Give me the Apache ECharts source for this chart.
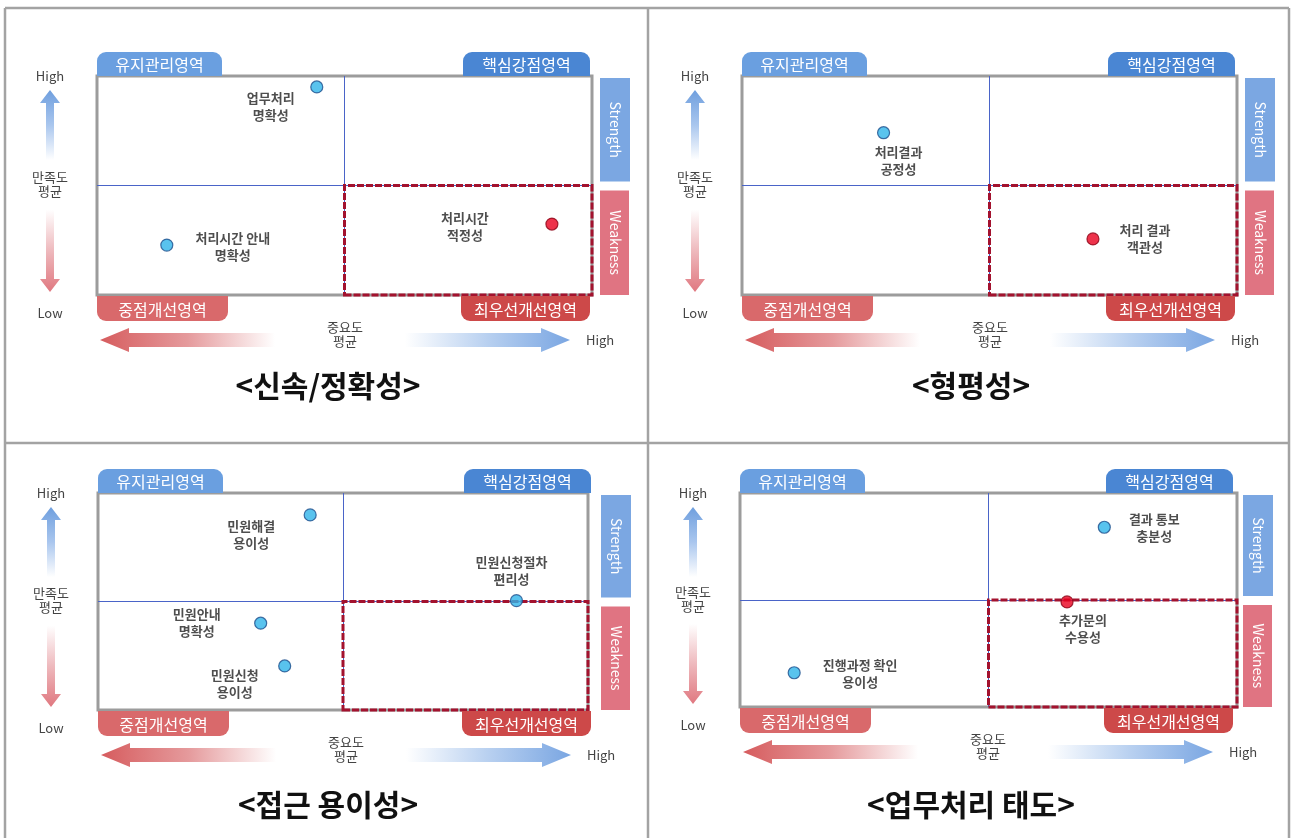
<!DOCTYPE html>
<html><head><meta charset="utf-8">
<script src="https://cdn.jsdelivr.net/npm/echarts@6/dist/echarts.min.js"></script>
<style>html,body{margin:0;padding:0;background:#fff}#c{width:1292px;height:838px}</style>
</head><body><div id="c"></div>
<script>
// ---- data ----
const panelTitles = ['<신속/정확성>', '<형평성>', '<접근 용이성>', '<업무처리 태도>'];

const p1Names = ['업무처리\n명확성', '처리시간 안내\n명확성', '처리시간\n적정성'];
const p1Importance = [44.4, 14.1, 91.9];
const p1Satisfaction = [95.0, 22.8, 32.4];
const p1Priority = [0, 0, 1];

const p2Names = ['처리결과\n공정성', '처리 결과\n객관성'];
const p2Importance = [28.6, 70.9];
const p2Satisfaction = [74.1, 25.6];
const p2Priority = [0, 1];

const p3Names = ['민원해결\n용이성', '민원신청절차\n편리성', '민원안내\n명확성', '민원신청\n용이성'];
const p3Importance = [43.3, 85.4, 33.2, 38.1];
const p3Satisfaction = [89.9, 50.4, 40.0, 20.3];
const p3Priority = [0, 0, 0, 0];

const p4Names = ['결과 통보\n충분성', '추가문의\n수용성', '진행과정 확인\n용이성'];
const p4Importance = [73.3, 65.8, 10.9];
const p4Satisfaction = [84.0, 49.1, 16.0];
const p4Priority = [0, 1, 0];

const quadrantLabels = ['유지관리영역', '핵심강점영역', '중점개선영역', '최우선개선영역'];
const sideLabels = ['Strength', 'Weakness'];
const axisTexts = ['High', 'Low', '만족도\n평균', '중요도\n평균'];
const meanValue = 50;

// ---- layout (styles only) ----
const grids = [
  {L: 97,  T: 76,  W: 495, H: 219, titleX: 328, titleY: 386},
  {L: 742, T: 76,  W: 495, H: 219, titleX: 971, titleY: 386},
  {L: 98,  T: 493, W: 490, H: 217, titleX: 328, titleY: 805},
  {L: 740, T: 493, W: 497, H: 214, titleX: 971, titleY: 805}
];
const labelOffsets = [
  [[-46, 20], [66, 1], [-87, 3]],
  [[15, 28], [52, 0]],
  [[-59, 20], [-5, -30], [-64, -1], [-50, 18]],
  [[50, 0], [16, 27], [66, 1]]
];

const panels = [
  [p1Names, p1Importance, p1Satisfaction, p1Priority],
  [p2Names, p2Importance, p2Satisfaction, p2Priority],
  [p3Names, p3Importance, p3Satisfaction, p3Priority],
  [p4Names, p4Importance, p4Satisfaction, p4Priority]
];

const KR = '"Noto Sans CJK KR","Noto Sans",sans-serif';
const blueDot = {color: '#2fb4ea', borderColor: '#1b4e8c', borderWidth: 1.2};
const redDot = {color: '#e8001e', borderColor: '#8c0014', borderWidth: 1.2};

const grid = [], xAxis = [], yAxis = [], series = [];
panels.forEach((p, i) => {
  const g = grids[i];
  grid.push({left: g.L, top: g.T, width: g.W, height: g.H, show: true,
    borderColor: '#9c9c9c', borderWidth: 3, backgroundColor: '#fff'});
  xAxis.push({type: 'value', gridIndex: i, min: 0, max: 100, show: false});
  yAxis.push({type: 'value', gridIndex: i, min: 0, max: 100, show: false});
  const [names, imp, sat, pri] = p;
  series.push({
    type: 'scatter', xAxisIndex: i, yAxisIndex: i, symbolSize: 12, z: 5,
    data: names.map((n, k) => ({
      value: [imp[k], sat[k]], name: n,
      itemStyle: pri[k] ? redDot : blueDot,
      label: {offset: labelOffsets[i][k]}
    })),
    label: {show: true, position: 'inside', formatter: d => d.name,
      fontFamily: KR, fontWeight: 'bold', fontSize: 13, lineHeight: 17,
      color: '#222', align: 'center', verticalAlign: 'middle'},
    markLine: {silent: true, symbol: 'none', animation: false, z: 2,
      lineStyle: {color: '#4a64c8', width: 1, type: 'solid'}, label: {show: false},
      data: [{xAxis: meanValue}, {yAxis: meanValue}]},
    markArea: {silent: true, animation: false, z: 3,
      itemStyle: {color: 'rgba(0,0,0,0)', borderColor: '#a3122e', borderWidth: 3, borderType: [7, 2]},
      data: [[{coord: [meanValue, 0]}, {coord: [100, meanValue]}]]}
  });
});

// ---- decorations ----
const graphic = [];
const lin = (x2, y2, stops) => ({type: 'linear', x: 0, y: 0, x2: x2, y2: y2,
  colorStops: stops.map((c, k) => ({offset: k / (stops.length - 1), color: c}))});

// panel frame
const frameC = '#a3a3a3';
[[5, 8, 1289, 8], [5, 8, 5, 838], [648, 8, 648, 838], [1289, 8, 1289, 838], [5, 443, 1289, 443]]
  .forEach(s => graphic.push({type: 'line', shape: {x1: s[0], y1: s[1], x2: s[2], y2: s[3]},
    style: {stroke: frameC, lineWidth: 2.5}, silent: true}));

grids.forEach((g, i) => {
  const L = g.L, T = g.T, B = g.T + g.H, mid = g.T + g.H / 2;
  const tab = (x, y, w, h, r, fill, text) => {
    graphic.push({type: 'rect', shape: {x: x, y: y, width: w, height: h, r: r}, style: {fill: fill}, z: 10});
    graphic.push({type: 'text', x: x + w / 2, y: y + h / 2 + 1, z: 11,
      style: {text: text, fill: '#fff', font: '16px ' + KR, align: 'center', verticalAlign: 'middle'}});
  };
  tab(L, T - 24, 125, 24, [9, 9, 0, 0], '#6a9fe0', quadrantLabels[0]);
  tab(L + 366, T - 24, 127, 24, [9, 9, 0, 0], '#4a86d3', quadrantLabels[1]);
  tab(L, B + 1, 131, 25, [0, 0, 9, 9], '#d9696b', quadrantLabels[2]);
  tab(L + 364, B + 1, 129, 25, [0, 0, 9, 9], '#cd4949', quadrantLabels[3]);

  // side bars
  const bx = L + 503;
  graphic.push({type: 'rect', shape: {x: bx, y: T + 2, width: 30, height: mid - 4 - (T + 2)}, style: {fill: '#7ba7e2'}, z: 10});
  graphic.push({type: 'rect', shape: {x: bx, y: mid + 5, width: 29, height: B - (mid + 5)}, style: {fill: '#e07482'}, z: 10});
  graphic.push({type: 'text', x: bx + 15, y: (T + 2 + mid - 4) / 2, rotation: -Math.PI / 2, z: 11,
    style: {text: sideLabels[0], fill: '#fff', font: '14px ' + KR, align: 'center', verticalAlign: 'middle'}});
  graphic.push({type: 'text', x: bx + 15, y: (mid + 5 + B) / 2, rotation: -Math.PI / 2, z: 11,
    style: {text: sideLabels[1], fill: '#fff', font: '14px ' + KR, align: 'center', verticalAlign: 'middle'}});

  // left vertical labels and arrows
  const cx = L - 47;
  const small = (x, y, t, align) => graphic.push({type: 'text', x: x, y: y, z: 11,
    style: {text: t, fill: '#444', font: '13px ' + KR, align: align || 'center', verticalAlign: 'middle', lineHeight: 14}});
  small(cx, T, axisTexts[0]);
  small(cx, B + 18, axisTexts[1]);
  small(cx, mid - 1, axisTexts[2]);
  // up arrow
  const uT = T + 14, uB = T + 84;
  graphic.push({type: 'polygon', z: 10, shape: {points: [[cx, uT], [cx + 10, uT + 13], [cx + 4, uT + 13], [cx + 4, uB], [cx - 4, uB], [cx - 4, uT + 13], [cx - 10, uT + 13]]},
    style: {fill: lin(0, 1, ['#6f9fde', '#a9c6ee', '#ffffff'])}});
  // down arrow
  const dT = mid + 24, dB = B - 3;
  graphic.push({type: 'polygon', z: 10, shape: {points: [[cx - 4, dT], [cx + 4, dT], [cx + 4, dB - 13], [cx + 10, dB - 13], [cx, dB], [cx - 10, dB - 13], [cx - 4, dB - 13]]},
    style: {fill: lin(0, 1, ['#ffffff', '#eeb9bd', '#e07880'])}});

  // bottom horizontal labels and arrows
  const ay = B + 45;
  small(L + 248, B + 39, axisTexts[3]);
  small(L + 489, ay, axisTexts[0], 'left');
  const lT = L + 3, lE = L + 178;
  graphic.push({type: 'polygon', z: 10, shape: {points: [[lT, ay], [lT + 29, ay - 12], [lT + 29, ay - 7], [lE, ay - 7], [lE, ay + 7], [lT + 29, ay + 7], [lT + 29, ay + 12]]},
    style: {fill: lin(1, 0, ['#d65c5e', '#e59a9c', '#ffffff'])}});
  const rS = L + 308, rT = L + 473;
  graphic.push({type: 'polygon', z: 10, shape: {points: [[rS, ay - 7], [rT - 29, ay - 7], [rT - 29, ay - 12], [rT, ay], [rT - 29, ay + 12], [rT - 29, ay + 7], [rS, ay + 7]]},
    style: {fill: lin(1, 0, ['#ffffff', '#b8d0f0', '#7aa6e2'])}});

  // title
  graphic.push({type: 'text', x: g.titleX, y: g.titleY, z: 11,
    style: {text: panelTitles[i], fill: '#111', font: 'bold 30px ' + KR, align: 'center', verticalAlign: 'middle'}});
});

const chart = echarts.init(document.getElementById('c'), null, {renderer: 'canvas'});
chart.setOption({animation: false, backgroundColor: '#fff', grid, xAxis, yAxis, series, graphic});
</script></body></html>
